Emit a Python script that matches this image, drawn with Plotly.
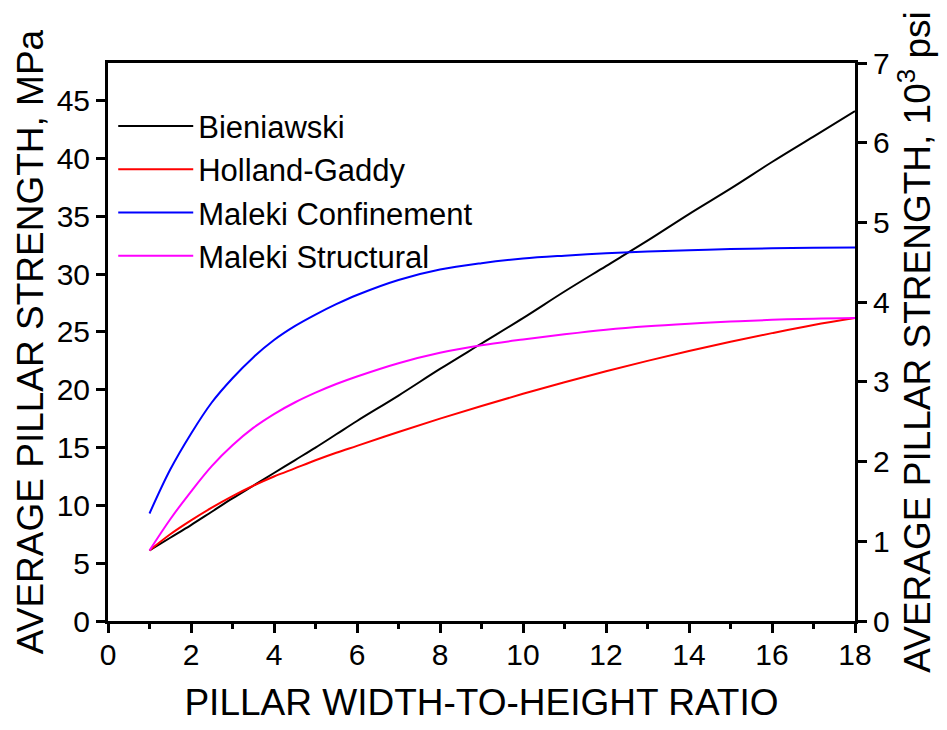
import plotly.graph_objects as go

# Width-to-height ratio (values read at these x positions)
ratio = [1, 1.5, 2, 2.5, 3, 3.5, 4, 4.5, 5, 5.5, 6, 7, 8, 9, 10, 11, 12, 13,
         14, 15, 16, 17, 18]

# Average pillar strength, MPa
bieniawski = [6.1, 7.2, 8.3, 9.45, 10.6, 11.7, 12.8, 13.9, 15.0, 16.15, 17.3,
              19.5, 21.8, 24.0, 26.2, 28.5, 30.7, 32.9, 35.2, 37.4, 39.7, 41.9, 44.1]
holland_gaddy = [6.1, 7.5, 8.7, 9.8, 10.8, 11.7, 12.5, 13.2, 13.9, 14.55, 15.15,
                 16.35, 17.5, 18.6, 19.65, 20.65, 21.6, 22.5, 23.35, 24.15, 24.9, 25.6, 26.2]
maleki_conf = [9.3, 13.1, 16.2, 18.9, 21.0, 22.8, 24.3, 25.5, 26.5, 27.4, 28.2,
               29.5, 30.4, 30.95, 31.35, 31.6, 31.8, 31.95, 32.07, 32.17, 32.24, 32.28, 32.3]
maleki_struct = [6.1, 8.8, 11.2, 13.4, 15.2, 16.7, 17.9, 18.9, 19.75, 20.5, 21.15,
                 22.3, 23.2, 23.85, 24.35, 24.8, 25.2, 25.5, 25.72, 25.9, 26.05, 26.15, 26.2]

series_names = ["Bieniawski", "Holland-Gaddy", "Maleki Confinement", "Maleki Structural"]
series_values = [bieniawski, holland_gaddy, maleki_conf, maleki_struct]
series_colors = ["#000000", "#FF0000", "#0000FF", "#FF00FF"]

MPA_PER_KSI = 6.894757
psi_max = 7
mpa_max = psi_max * MPA_PER_KSI

FONT = "Arial, 'Liberation Sans', sans-serif"

fig = go.Figure()
for name, vals, col in zip(series_names, series_values, series_colors):
    fig.add_trace(go.Scatter(
        x=ratio, y=vals, mode="lines", name=name,
        line=dict(color=col, width=2, shape="spline", smoothing=1.0),
    ))

# empty trace that attaches the secondary (10^3 psi) axis
fig.add_trace(go.Scatter(x=[], y=[], yaxis="y2", showlegend=False, hoverinfo="skip"))

axis_common = dict(
    showline=True, linecolor="black", linewidth=3,
    ticks="outside", ticklen=9, tickwidth=3, tickcolor="black",
    showgrid=False, zeroline=False,
    tickfont=dict(family=FONT, size=30, color="black"),
)

fig.update_layout(
    width=947, height=730,
    margin=dict(l=108, r=92, t=63, b=109, autoexpand=False),
    paper_bgcolor="white", plot_bgcolor="white",
    font=dict(family=FONT, color="black"),
    showlegend=True,
    legend=dict(
        x=0.007, y=0.935, xanchor="left", yanchor="top",
        bgcolor="rgba(0,0,0,0)", borderwidth=0,
        font=dict(family=FONT, size=31, color="black"),
        itemwidth=75, tracegroupgap=0,
    ),
    xaxis=dict(
        **axis_common,
        range=[0, 18], dtick=2, tick0=0, mirror=True,
        minor=dict(dtick=1, ticks="outside", ticklen=5, tickwidth=3, tickcolor="black"),
        ticklabelstandoff=-4,
        title=dict(text="PILLAR WIDTH-TO-HEIGHT RATIO",
                   font=dict(family=FONT, size=37, color="black"), standoff=20),
        automargin=False,
    ),
    yaxis=dict(
        **axis_common,
        range=[0, mpa_max], dtick=5, tick0=0,
        title=dict(text="AVERAGE PILLAR STRENGTH, MPa",
                   font=dict(family=FONT, size=37, color="black"), standoff=2),
        automargin=False,
    ),
    yaxis2=dict(
        **axis_common,
        range=[0, psi_max], dtick=1, tick0=0,
        overlaying="y", side="right", anchor="x",
        title=dict(text="AVERAGE PILLAR STRENGTH, 10<sup>3</sup> psi",
                   font=dict(family=FONT, size=37, color="black"), standoff=16),
        automargin=False,
    ),
)

fig.write_html("out.html")
